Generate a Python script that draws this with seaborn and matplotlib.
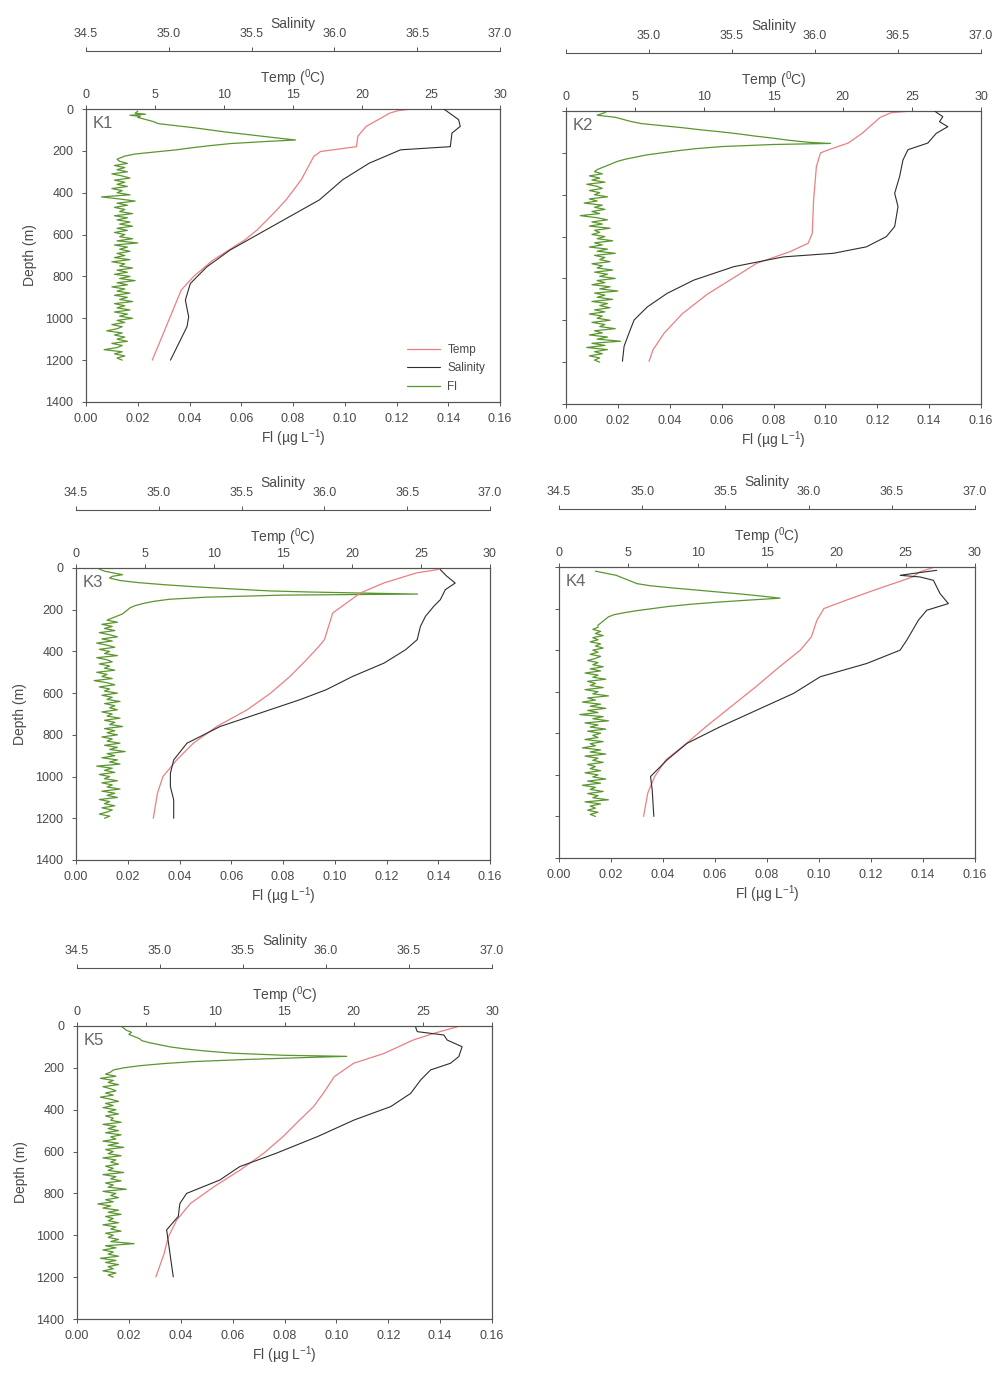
import numpy as np
import matplotlib.pyplot as plt
import seaborn as sns
from matplotlib.lines import Line2D

# -----------------------------
# 1. Profile data (depth in m)
# -----------------------------
# K1
k1_temp_depth = [0, 8, 20, 50, 83, 130, 180, 203, 227, 338, 434, 498, 578, 626, 722, 800, 865, 993, 1105, 1200]
k1_temp = [23.6, 22.6, 22.0, 21.2, 20.3, 19.7, 19.6, 17.0, 16.5, 15.6, 14.5, 13.6, 12.4, 11.5, 9.2, 7.8, 6.9, 6.1, 5.4, 4.8]
k1_sal_depth = [0, 11, 51, 83, 115, 180, 195, 259, 338, 434, 514, 594, 674, 754, 834, 913, 993, 1040, 1120, 1200]
k1_sal = [36.66, 36.68, 36.75, 36.76, 36.71, 36.70, 36.40, 36.21, 36.05, 35.91, 35.73, 35.55, 35.37, 35.23, 35.13,
          35.10, 35.12, 35.11, 35.06, 35.01]
k1_fl_depth = [10, 20, 25, 30, 35, 40, 50, 60, 70, 80, 90, 100, 110, 120, 130, 140, 148, 155, 165, 175, 185, 195,
               205, 215, 225, 240]
k1_fl = [0.020, 0.019, 0.023, 0.017, 0.021, 0.020, 0.023, 0.026, 0.028, 0.035, 0.042, 0.048, 0.054, 0.061, 0.068,
         0.075, 0.081, 0.070, 0.056, 0.048, 0.041, 0.035, 0.027, 0.019, 0.015, 0.012]
k1_fl_deep_start = 250
k1_fl_deep = [0.013, 0.016, 0.011, 0.015, 0.012, 0.016, 0.010, 0.014, 0.017, 0.011,
              0.015, 0.012, 0.016, 0.010, 0.014, 0.012, 0.017, 0.006, 0.013, 0.019,
              0.012, 0.016, 0.011, 0.015, 0.013, 0.018, 0.011, 0.016, 0.012, 0.017,
              0.013, 0.018, 0.012, 0.016, 0.011, 0.015, 0.013, 0.018, 0.012, 0.020,
              0.011, 0.016, 0.013, 0.017, 0.012, 0.015, 0.011, 0.017, 0.010, 0.015,
              0.013, 0.018, 0.012, 0.016, 0.011, 0.017, 0.013, 0.019, 0.012, 0.016,
              0.010, 0.015, 0.012, 0.017, 0.011, 0.016, 0.013, 0.018, 0.011, 0.015,
              0.012, 0.017, 0.011, 0.016, 0.013, 0.018, 0.012, 0.015, 0.010, 0.014,
              0.012, 0.008, 0.014, 0.011, 0.015, 0.012, 0.016, 0.010, 0.014, 0.012,
              0.007, 0.014, 0.011, 0.015, 0.012, 0.014]

# K2
k2_temp_depth = [0, 8, 31, 107, 153, 185, 200, 266, 425, 585, 632, 672, 727, 777, 876, 969, 1061, 1140, 1196]
k2_temp = [25.0, 23.5, 22.7, 21.4, 20.4, 19.0, 18.4, 18.1, 17.9, 17.8, 17.5, 16.2, 13.8, 12.6, 10.2, 8.4, 7.1, 6.3, 6.0]
k2_sal_depth = [0, 11, 27, 51, 75, 107, 153, 185, 234, 312, 393, 457, 552, 600, 649, 680, 697, 744, 808, 871, 936,
                999, 1060, 1124, 1196]
k2_sal = [36.72, 36.74, 36.77, 36.75, 36.80, 36.73, 36.68, 36.56, 36.53, 36.51, 36.48, 36.50, 36.48, 36.43, 36.31,
          36.11, 35.81, 35.51, 35.27, 35.11, 34.99, 34.91, 34.88, 34.85, 34.84]
k2_fl_depth = [0, 10, 20, 30, 40, 50, 60, 70, 80, 90, 100, 110, 120, 130, 140, 150, 155, 160, 170, 180, 190, 200,
               210, 220, 230, 240, 250, 260, 270, 280]
k2_fl = [0.016, 0.0145, 0.012, 0.019, 0.022, 0.025, 0.029, 0.037, 0.045, 0.052, 0.060, 0.067, 0.073, 0.080, 0.086,
         0.094, 0.102, 0.080, 0.060, 0.050, 0.043, 0.037, 0.031, 0.027, 0.023, 0.020, 0.018, 0.016, 0.014, 0.012]
k2_fl_deep_start = 290
k2_fl_deep = [0.011, 0.014, 0.009, 0.013, 0.010, 0.015, 0.008, 0.012, 0.014, 0.009,
              0.013, 0.011, 0.016, 0.009, 0.012, 0.007, 0.014, 0.011, 0.015, 0.010,
              0.013, 0.0055, 0.012, 0.016, 0.010, 0.014, 0.009, 0.017, 0.011, 0.013,
              0.010, 0.015, 0.012, 0.018, 0.011, 0.014, 0.009, 0.016, 0.012, 0.019,
              0.011, 0.015, 0.013, 0.017, 0.010, 0.014, 0.012, 0.018, 0.011, 0.016,
              0.013, 0.019, 0.012, 0.015, 0.010, 0.017, 0.013, 0.020, 0.011, 0.015,
              0.012, 0.018, 0.010, 0.016, 0.013, 0.017, 0.011, 0.015, 0.009, 0.014,
              0.012, 0.017, 0.010, 0.015, 0.013, 0.019, 0.011, 0.014, 0.009, 0.016,
              0.012, 0.021, 0.010, 0.015, 0.008, 0.016, 0.011, 0.014, 0.009, 0.013,
              0.011, 0.013]

# K3
k3_temp_depth = [3, 11, 23, 72, 120, 168, 216, 280, 344, 376, 440, 520, 600, 680, 760, 840, 920, 1000, 1080, 1200]
k3_temp = [26.5, 25.9, 24.7, 22.3, 20.6, 19.6, 18.6, 18.3, 18.0, 17.6, 16.7, 15.5, 14.1, 12.4, 10.2, 8.5, 7.3, 6.3,
           5.9, 5.6]
k3_sal_depth = [8, 40, 72, 104, 152, 184, 232, 280, 344, 392, 456, 520, 584, 632, 696, 760, 840, 920, 984, 1048,
                1112, 1200]
k3_sal = [36.70, 36.74, 36.79, 36.73, 36.70, 36.66, 36.61, 36.58, 36.56, 36.49, 36.36, 36.17, 36.01, 35.85, 35.61,
          35.37, 35.17, 35.09, 35.07, 35.07, 35.09, 35.09]
k3_fl_depth = [5, 15, 25, 32, 40, 48, 60, 70, 80, 90, 100, 110, 115, 120, 125, 130, 140, 150, 160, 170, 180, 190,
               200, 210, 220, 230, 240]
k3_fl = [0.009, 0.011, 0.015, 0.018, 0.014, 0.013, 0.017, 0.024, 0.034, 0.046, 0.060, 0.075, 0.090, 0.110, 0.132,
         0.080, 0.050, 0.036, 0.030, 0.026, 0.023, 0.021, 0.020, 0.019, 0.018, 0.016, 0.014]
k3_fl_deep_start = 250
k3_fl_deep = [0.012, 0.016, 0.010, 0.014, 0.011, 0.015, 0.009, 0.013, 0.016, 0.010,
              0.014, 0.008, 0.012, 0.015, 0.009, 0.013, 0.011, 0.016, 0.008, 0.012,
              0.014, 0.009, 0.013, 0.011, 0.015, 0.008, 0.012, 0.010, 0.014, 0.007,
              0.012, 0.015, 0.009, 0.013, 0.011, 0.016, 0.010, 0.014, 0.012, 0.017,
              0.011, 0.015, 0.013, 0.016, 0.010, 0.014, 0.012, 0.017, 0.011, 0.015,
              0.013, 0.018, 0.011, 0.015, 0.012, 0.016, 0.010, 0.014, 0.012, 0.017,
              0.011, 0.016, 0.013, 0.019, 0.012, 0.015, 0.010, 0.016, 0.013, 0.017,
              0.008, 0.014, 0.011, 0.015, 0.009, 0.013, 0.011, 0.016, 0.010, 0.014,
              0.012, 0.017, 0.010, 0.015, 0.012, 0.016, 0.009, 0.013, 0.011, 0.015,
              0.010, 0.014, 0.012, 0.009, 0.013, 0.011]

# K4
k4_temp_depth = [0, 24, 48, 112, 160, 200, 256, 336, 400, 480, 576, 688, 768, 848, 928, 1008, 1088, 1200]
k4_temp = [27.1, 26.0, 25.5, 22.7, 20.7, 19.1, 18.6, 18.2, 17.4, 15.9, 14.2, 12.1, 10.6, 9.2, 7.7, 6.9, 6.4, 6.1]
k4_sal_depth = [16, 32, 40, 48, 64, 128, 176, 208, 256, 352, 400, 464, 528, 608, 688, 768, 848, 928, 1008, 1072, 1200]
k4_sal = [36.77, 36.62, 36.55, 36.67, 36.75, 36.79, 36.84, 36.71, 36.66, 36.59, 36.55, 36.35, 36.07, 35.91, 35.69,
          35.47, 35.27, 35.15, 35.05, 35.06, 35.07]
k4_fl_depth = [20, 30, 40, 50, 60, 70, 80, 90, 100, 110, 120, 130, 140, 150, 160, 170, 180, 190, 200, 210, 220, 230,
               240, 250, 260, 270, 280]
k4_fl = [0.014, 0.018, 0.022, 0.024, 0.026, 0.028, 0.030, 0.035, 0.043, 0.052, 0.061, 0.070, 0.078, 0.085, 0.072,
         0.060, 0.050, 0.042, 0.036, 0.030, 0.025, 0.021, 0.019, 0.018, 0.017, 0.016, 0.015]
k4_fl_deep_start = 290
k4_fl_deep = [0.015, 0.013, 0.016, 0.014, 0.017, 0.013, 0.015, 0.012, 0.016, 0.014,
              0.017, 0.013, 0.015, 0.012, 0.016, 0.014, 0.011, 0.015, 0.013, 0.017,
              0.012, 0.016, 0.010, 0.015, 0.013, 0.018, 0.011, 0.014, 0.012, 0.017,
              0.010, 0.015, 0.013, 0.019, 0.011, 0.014, 0.009, 0.016, 0.012, 0.018,
              0.011, 0.015, 0.008, 0.017, 0.013, 0.019, 0.010, 0.015, 0.012, 0.018,
              0.011, 0.016, 0.013, 0.015, 0.010, 0.017, 0.012, 0.014, 0.009, 0.016,
              0.012, 0.018, 0.010, 0.015, 0.013, 0.017, 0.011, 0.014, 0.012, 0.016,
              0.010, 0.015, 0.013, 0.018, 0.011, 0.016, 0.009, 0.014, 0.012, 0.017,
              0.011, 0.015, 0.013, 0.019, 0.010, 0.016, 0.012, 0.014, 0.011, 0.015,
              0.012, 0.014]

# K5
k5_temp_depth = [0, 35, 67, 131, 178, 242, 322, 385, 449, 528, 608, 688, 768, 848, 928, 1008, 1087, 1199]
k5_temp = [27.7, 25.8, 24.3, 22.2, 20.0, 18.6, 17.8, 17.1, 16.1, 14.9, 13.5, 11.8, 9.9, 8.2, 7.2, 6.6, 6.3, 5.7]
k5_sal_depth = [6, 27, 43, 67, 99, 146, 178, 210, 258, 322, 385, 449, 528, 608, 672, 736, 800, 848, 910, 974, 1087,
                1199]
k5_sal = [36.54, 36.55, 36.71, 36.73, 36.82, 36.80, 36.75, 36.63, 36.57, 36.51, 36.39, 36.17, 35.95, 35.70, 35.48,
          35.36, 35.16, 35.12, 35.11, 35.04, 35.06, 35.08]
k5_fl_depth = [0, 10, 20, 30, 40, 50, 60, 70, 80, 90, 100, 110, 120, 130, 140, 145, 150, 160, 170, 180, 190, 200,
               210, 220]
k5_fl = [0.017, 0.018, 0.019, 0.021, 0.020, 0.022, 0.024, 0.025, 0.028, 0.032, 0.036, 0.042, 0.050, 0.060, 0.080,
         0.104, 0.090, 0.065, 0.045, 0.033, 0.024, 0.018, 0.014, 0.013]
k5_fl_deep_start = 230
k5_fl_deep = [0.011, 0.015, 0.009, 0.014, 0.012, 0.016, 0.010, 0.013, 0.015, 0.011,
              0.014, 0.009, 0.013, 0.016, 0.011, 0.014, 0.010, 0.015, 0.012, 0.016,
              0.011, 0.014, 0.013, 0.017, 0.010, 0.015, 0.012, 0.016, 0.011, 0.017,
              0.013, 0.015, 0.010, 0.016, 0.012, 0.018, 0.011, 0.014, 0.012, 0.017,
              0.010, 0.015, 0.013, 0.016, 0.011, 0.014, 0.012, 0.018, 0.010, 0.015,
              0.013, 0.017, 0.011, 0.014, 0.012, 0.019, 0.010, 0.015, 0.013, 0.016,
              0.011, 0.014, 0.008, 0.013, 0.010, 0.016, 0.012, 0.017, 0.011, 0.014,
              0.012, 0.016, 0.010, 0.015, 0.013, 0.017, 0.011, 0.014, 0.012, 0.016,
              0.013, 0.022, 0.011, 0.015, 0.010, 0.014, 0.012, 0.016, 0.009, 0.015,
              0.011, 0.016, 0.012, 0.014, 0.010, 0.015, 0.012, 0.014]

# axis tick values / labels
fl_ticks = [0.00, 0.02, 0.04, 0.06, 0.08, 0.10, 0.12, 0.14, 0.16]
temp_ticks = [0, 5, 10, 15, 20, 25, 30]
sal_ticks = [34.5, 35.0, 35.5, 36.0, 36.5, 37.0]
depth_ticks = [0, 200, 400, 600, 800, 1000, 1200, 1400]

# -----------------------------
# 2. Style
# -----------------------------
sns.set_style("ticks")
plt.rcParams['font.family'] = ['Liberation Sans', 'DejaVu Sans']
plt.rcParams['mathtext.fontset'] = 'custom'
plt.rcParams['mathtext.rm'] = 'Liberation Sans'
plt.rcParams['mathtext.default'] = 'regular'

TXT = '#4a4a4a'
EDGE = '#555555'
TEMP_C = '#ec7f82'
SAL_C = '#2e2e2e'
FL_C = '#5a962e'

W, H = 997, 1373
fig = plt.figure(figsize=(W / 100, H / 100), dpi=100)


def fl_profile(top_d, top_v, deep_start, deep_v):
    deep_d = deep_start + 10 * np.arange(len(deep_v))
    return list(top_d) + list(deep_d), list(top_v) + list(deep_v)


def draw_station(rect, name, temp_d, temp_v, sal_d, sal_v, fl_d, fl_v, show_y=True, legend=False, hide_first_sal=False):
    l, t, r, b = rect
    ax = fig.add_axes([l / W, 1 - b / H, (r - l) / W, (b - t) / H])
    ax_t = ax.twiny()
    ax_s = ax.twiny()

    sns.lineplot(x=fl_v, y=fl_d, ax=ax, orient='y', sort=False, estimator=None,
                 color=FL_C, lw=0.9, legend=False)
    sns.lineplot(x=temp_v, y=temp_d, ax=ax_t, orient='y', sort=False, estimator=None,
                 color=TEMP_C, lw=0.9, legend=False)
    sns.lineplot(x=sal_v, y=sal_d, ax=ax_s, orient='y', sort=False, estimator=None,
                 color=SAL_C, lw=0.8, legend=False)

    ax.set_xlim(0, 0.16)
    ax.set_ylim(1400, 0)
    ax_t.set_xlim(0, 30)
    ax_s.set_xlim(34.5, 37.0)

    ax.set_xticks(fl_ticks)
    ax.set_xticklabels([f"{v:.2f}" for v in fl_ticks])
    ax.set_yticks(depth_ticks)
    ax.set_yticklabels([str(v) for v in depth_ticks])
    ax_t.set_xticks(temp_ticks)
    ax_t.set_xticklabels([str(v) for v in temp_ticks])
    ax_s.set_xticks(sal_ticks)
    sal_labels = [f"{v:.1f}" for v in sal_ticks]
    if hide_first_sal:
        sal_labels[0] = ''
    ax_s.set_xticklabels(sal_labels)

    ax_s.xaxis.set_ticks_position('top')
    ax_s.xaxis.set_label_position('top')
    ax_s.spines['top'].set_position(('outward', 42))
    for sp in ['bottom', 'left', 'right']:
        ax_s.spines[sp].set_visible(False)
    for a in (ax, ax_t, ax_s):
        for sp in a.spines.values():
            sp.set_color(EDGE)
            sp.set_linewidth(0.8)
        a.tick_params(direction='out', length=3, width=0.7, color=EDGE,
                      labelcolor=TXT, labelsize=9)

    ax.tick_params(axis='x', pad=5)
    ax.tick_params(axis='y', pad=6, labelleft=show_y)
    ax_t.tick_params(axis='x', pad=3)
    ax_s.tick_params(axis='x', pad=5)

    ax.set_xlabel('Fl (µg L$^{-1}$)', fontsize=10, color=TXT, labelpad=2)
    ax.set_ylabel('Depth (m)' if show_y else '', fontsize=10, color=TXT, labelpad=6)
    ax_t.set_xlabel('Temp ($^{0}$C)', fontsize=10, color=TXT, labelpad=4)
    ax_s.set_xlabel('Salinity', fontsize=10, color=TXT, labelpad=0)
    ax_t.set_ylabel('')
    ax_s.set_ylabel('')

    ax.text(0.015, 0.975, name, transform=ax.transAxes, ha='left', va='top',
            fontsize=12, color='#666666')

    if legend:
        handles = [Line2D([], [], color=TEMP_C, lw=0.9),
                   Line2D([], [], color=SAL_C, lw=0.8),
                   Line2D([], [], color=FL_C, lw=0.9)]
        ax_s.legend(handles, ['Temp', 'Salinity', 'Fl'], loc='lower right',
                    bbox_to_anchor=(0.99, -0.005), frameon=False, fontsize=8.5,
                    handlelength=2.8, labelspacing=0.55, handletextpad=0.6,
                    labelcolor=TXT)


# -----------------------------
# 3. Panels
# -----------------------------
d, v = fl_profile(k1_fl_depth, k1_fl, k1_fl_deep_start, k1_fl_deep)
draw_station((86, 109, 500, 402), 'K1', k1_temp_depth, k1_temp, k1_sal_depth, k1_sal, d, v, legend=True)

d, v = fl_profile(k2_fl_depth, k2_fl, k2_fl_deep_start, k2_fl_deep)
draw_station((566, 111, 981, 404), 'K2', k2_temp_depth, k2_temp, k2_sal_depth, k2_sal, d, v,
             show_y=False, hide_first_sal=True)

d, v = fl_profile(k3_fl_depth, k3_fl, k3_fl_deep_start, k3_fl_deep)
draw_station((76, 568, 490, 860), 'K3', k3_temp_depth, k3_temp, k3_sal_depth, k3_sal, d, v)

d, v = fl_profile(k4_fl_depth, k4_fl, k4_fl_deep_start, k4_fl_deep)
draw_station((559, 567, 975, 858), 'K4', k4_temp_depth, k4_temp, k4_sal_depth, k4_sal, d, v, show_y=False)

d, v = fl_profile(k5_fl_depth, k5_fl, k5_fl_deep_start, k5_fl_deep)
draw_station((77, 1026, 492, 1319), 'K5', k5_temp_depth, k5_temp, k5_sal_depth, k5_sal, d, v)

fig.savefig("out.png", dpi=100)
